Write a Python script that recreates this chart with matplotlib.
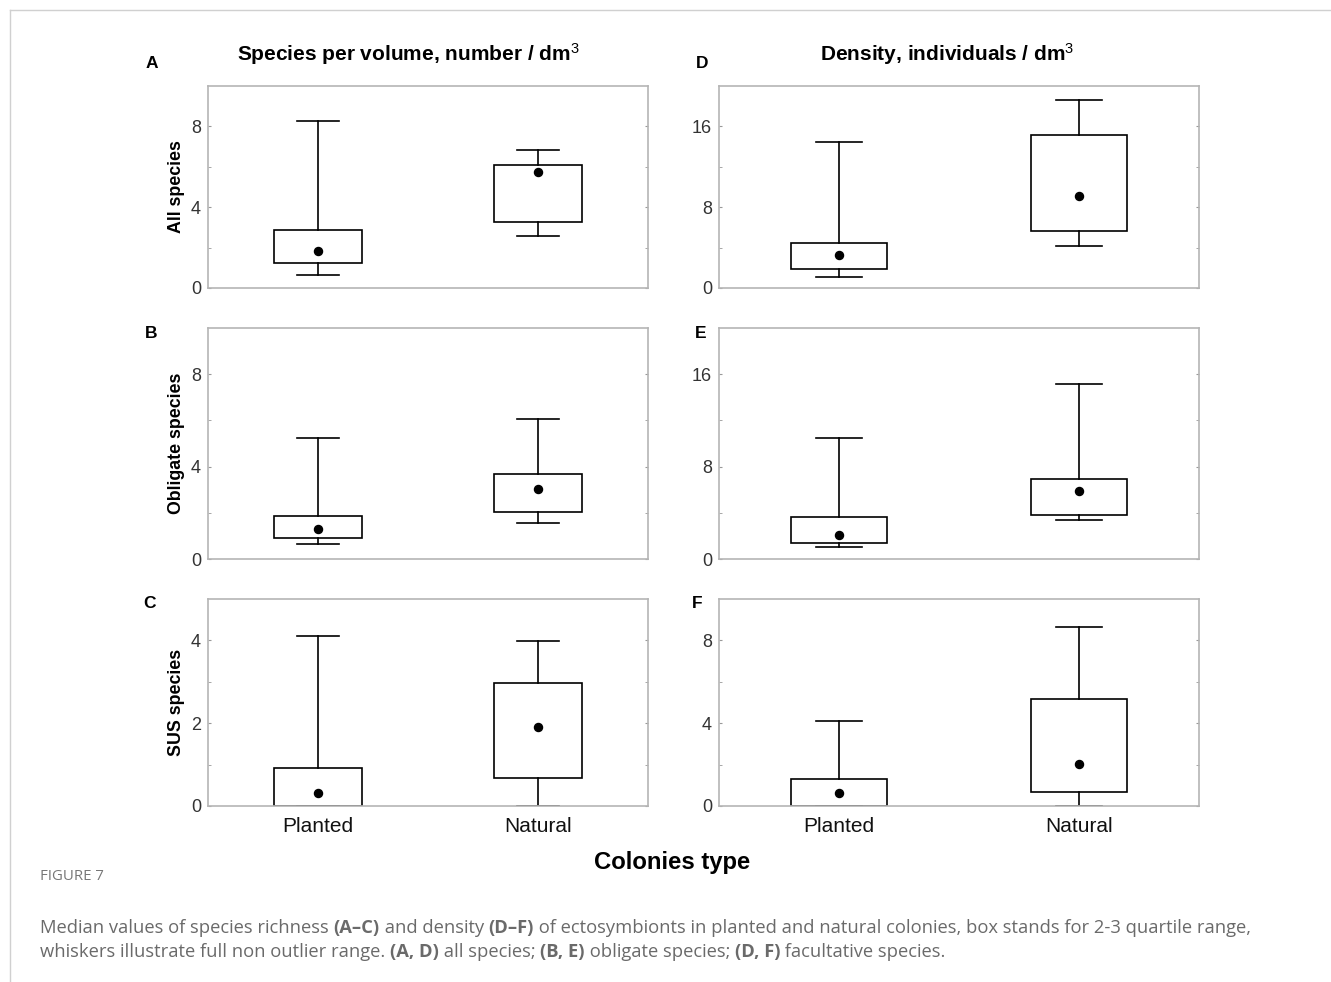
import matplotlib
matplotlib.use('Agg')
import matplotlib.pyplot as plt

# five-number summaries per group: whisker low, q1, median, q3, whisker high
groups = ['Planted', 'Natural']

A_planted = [0.63, 1.25, 1.85, 2.88, 8.28]
A_natural = [2.58, 3.27, 5.73, 6.07, 6.85]
B_planted = [0.63, 0.92, 1.29, 1.84, 5.25]
B_natural = [1.58, 2.05, 3.04, 3.68, 6.04]
C_planted = [0.0, 0.0, 0.31, 0.92, 4.10]
C_natural = [0.0, 0.68, 1.90, 2.96, 3.98]
D_planted = [1.06, 1.88, 3.30, 4.49, 14.45]
D_natural = [4.13, 5.64, 9.08, 15.18, 18.58]
E_planted = [1.00, 1.38, 2.12, 3.67, 10.49]
E_natural = [3.38, 3.78, 5.90, 6.90, 15.13]
F_planted = [0.0, 0.0, 0.63, 1.30, 4.10]
F_natural = [0.0, 0.69, 2.01, 5.17, 8.66]

col_titles = ['Species per volume, number / dm$^{3}$', 'Density, individuals / dm$^{3}$']
row_labels = ['All species', 'Obligate species', 'SUS species']

W, H = 1331, 982
fig = plt.figure(figsize=(W / 100, H / 100), dpi=100)
plt.rcParams['font.family'] = ['Liberation Sans', 'DejaVu Sans']
plt.rcParams['mathtext.fontset'] = 'custom'
plt.rcParams['mathtext.rm'] = 'Liberation Sans'
plt.rcParams['mathtext.default'] = 'rm'


def rect(x0, y0, x1, y1):
    return [x0 / W, 1 - y1 / H, (x1 - x0) / W, (y1 - y0) / H]


def stats(vals, label):
    lo, q1, med, q3, hi = vals
    return dict(whislo=lo, q1=q1, med=med, q3=q3, whishi=hi, label=label, fliers=[])


def panel(pos, planted, natural, ymax, major, minor, letter, letter_xy, ylabel=None, xlabels=False):
    ax = fig.add_axes(rect(*pos))
    data = [stats(planted, groups[0]), stats(natural, groups[1])]
    line = dict(color='black', linewidth=1.2)
    ax.bxp(data, positions=[1, 2], widths=0.4, capwidths=0.19, patch_artist=True,
           boxprops=dict(facecolor='white', edgecolor='black', linewidth=1.2),
           whiskerprops=line, capprops=line, medianprops=dict(linewidth=0),
           showfliers=False, zorder=2)
    ax.plot([1, 2], [planted[2], natural[2]], 'o', color='black', ms=5.8, zorder=3)
    ax.set_xlim(0.5, 2.5)
    ax.set_ylim(0, ymax)
    ax.set_yticks(major)
    ax.set_yticks(minor, minor=True)
    ax.tick_params(axis='y', which='both', direction='in', length=2, color='#999999',
                   labelsize=13, labelcolor='#333333', pad=5, right=True)
    if xlabels:
        ax.tick_params(axis='x', length=0, labelsize=15, pad=8, labelcolor='#111111')
    else:
        ax.set_xticklabels([])
        ax.tick_params(axis='x', length=0)
    for s in ax.spines.values():
        s.set_color('#b5b5b5')
        s.set_linewidth(1.2)
    if ylabel:
        ax.set_ylabel(ylabel, fontsize=12.8, fontweight='bold', labelpad=4)
    fig.text(letter_xy[0] / W, 1 - letter_xy[1] / H, letter, fontsize=12.5, fontweight='bold',
             ha='center', va='center')
    return ax


panel((208, 86, 648, 288), A_planted, A_natural, 10, [0, 4, 8], [2, 6], 'A', (152, 64), row_labels[0])
panel((208, 328, 648, 559), B_planted, B_natural, 10, [0, 4, 8], [2, 6], 'B', (151, 333), row_labels[1])
panel((208, 599, 648, 806), C_planted, C_natural, 5, [0, 2, 4], [1, 3], 'C', (149, 603), row_labels[2], True)
panel((719, 86, 1199, 288), D_planted, D_natural, 20, [0, 8, 16], [4, 12], 'D', (702, 64))
panel((719, 328, 1199, 559), E_planted, E_natural, 20, [0, 8, 16], [4, 12], 'E', (701, 333))
panel((719, 599, 1199, 806), F_planted, F_natural, 10, [0, 4, 8], [2, 6], 'F', (697, 603), xlabels=True)

fig.text(408 / W, 1 - 54 / H, col_titles[0], fontsize=15, fontweight='bold', ha='center', va='center')
fig.text(947 / W, 1 - 54 / H, col_titles[1], fontsize=15, fontweight='bold', ha='center', va='center')
fig.text(672 / W, 1 - 862 / H, 'Colonies type', fontsize=17.2, fontweight='bold', ha='center', va='center')

# page frame lines
fig.add_artist(plt.Line2D([10 / W, 1], [1 - 10 / H, 1 - 10 / H], color='#d0d0d0', lw=1))
fig.add_artist(plt.Line2D([10 / W, 10 / W], [0, 1 - 10 / H], color='#d0d0d0', lw=1))

# caption, with bold runs
cap_font = ['Open Sans', 'DejaVu Sans']
fig.text(40 / W, 1 - 876 / H, 'FIGURE 7', fontsize=10.8, color='#777777', family=cap_font,
         va='center')
renderer = fig.canvas.get_renderer()


def runs(x, y, pieces):
    for s, bold in pieces:
        t = fig.text(x / W, 1 - y / H, s, fontsize=13.25, color='#6a6a6a', family=cap_font,
                     fontweight='bold' if bold else 'normal', va='center')
        x += t.get_window_extent(renderer).width


runs(40, 928, [('Median values of species richness ', False), ('(A\u2013C)', True),
               (' and density ', False), ('(D\u2013F)', True),
               (' of ectosymbionts in planted and natural colonies, box stands for 2-3 quartile range,', False)])
runs(40, 952, [('whiskers illustrate full non outlier range. ', False), ('(A, D)', True),
               (' all species; ', False), ('(B, E)', True), (' obligate species; ', False),
               ('(D, F)', True), (' facultative species.', False)])

fig.savefig('out.png', dpi=100)
